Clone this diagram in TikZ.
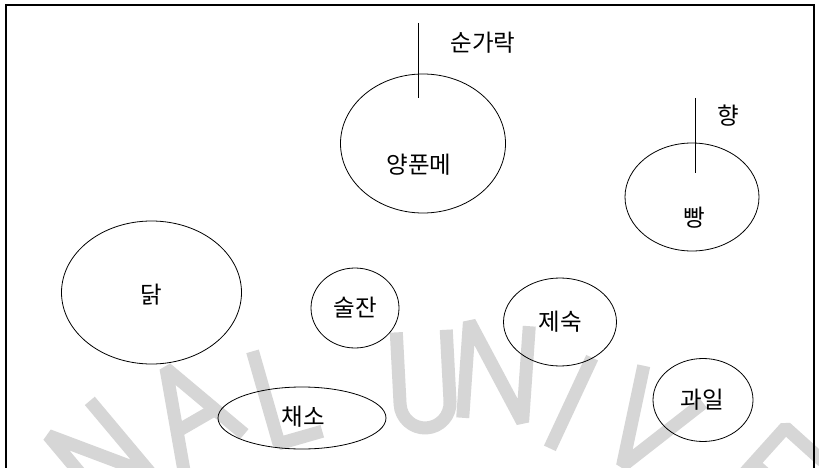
\documentclass[tikz,border=0pt]{standalone}
\usepackage{fontspec}
\newfontfamily\kr{Noto Sans CJK KR}
\usetikzlibrary{shapes.geometric}
\begin{document}
\begin{tikzpicture}[x=1pt,y=1pt,
  oval/.style={ellipse, draw, line width=0.8pt, inner sep=0pt},
  lbl/.style={font=\kr\fontsize{23.5}{23.5}\selectfont, inner sep=0pt},
  wm/.style={draw=black!16, line width=13pt, line join=bevel},
  tickline/.style={line width=0.8pt},
  frameline/.style={line width=1.2pt}]
\useasboundingbox (0,0) rectangle (819,-468);
\fill[white] (0,0) rectangle (819,-468);
% watermark
\begin{scope}
\clip (0,0) rectangle (819,-468);
\begin{scope}[shift={(100,-455)}, rotate=40]
  \draw[wm] (-27,-48)--(-27,48)--(27,-48)--(27,48);
\end{scope}
\begin{scope}[shift={(190,-410)}, rotate=30]
  \draw[wm] (-35,-48)--(0,48)--(35,-48);
  \draw[wm] (-20,-12)--(20,-12);
\end{scope}
\begin{scope}[shift={(285,-392)}, rotate=16]
  \draw[wm] (-20,48)--(-20,-48)--(25,-48);
\end{scope}
\begin{scope}[shift={(424,-383)}, rotate=3]
  \draw[wm] (-25,52)--(-25,-20) arc (180:360:25) -- (25,52);
\end{scope}
\begin{scope}[shift={(496,-372)}, rotate=-4]
  \draw[wm] (-30,-48)--(-30,48)--(30,-48)--(30,48);
\end{scope}
\begin{scope}[shift={(571,-403)}, rotate=-25]
  \draw[wm] (0,-50)--(0,50);
\end{scope}
\begin{scope}[shift={(648,-425)}, rotate=-32]
  \draw[wm] (-35,48)--(0,-48)--(35,48);
\end{scope}
\begin{scope}[shift={(772,-480)}, rotate=-42]
  \draw[wm] (25,48)--(-25,48)--(-25,-48)--(25,-48);
  \draw[wm] (-25,0)--(20,0);
\end{scope}
\end{scope}
% frame
\coordinate (f1) at (6,-472);
\coordinate (f2) at (6,-5);
\coordinate (f3) at (814,-5);
\coordinate (f4) at (814,-472);
\draw[frameline] (f1)--(f2)--(f3)--(f4);
% ellipses
\node[oval, minimum width=165pt, minimum height=139pt] (yp) at (423,-143.5) {};
\node[lbl] (ypt) at (419,-165) {양푼메};
\node[oval, minimum width=134pt, minimum height=108pt] (bb) at (692,-197) {};
\node[lbl] (bbt) at (694,-218) {빵};
\node[oval, minimum width=180pt, minimum height=143pt] (dk) at (151.5,-292.5) {};
\node[lbl] (dkt) at (151,-295) {닭};
\node[oval, minimum width=88pt, minimum height=80pt] (sj) at (355,-308) {};
\node[lbl] (sjt) at (355,-308) {술잔};
\node[oval, minimum width=113pt, minimum height=88pt] (js) at (560,-322) {};
\node[lbl] (jst) at (560,-322) {제숙};
\node[oval, minimum width=100pt, minimum height=83pt] (gi) at (703,-400) {};
\node[lbl] (git) at (702,-400) {과일};
\node[oval, minimum width=168pt, minimum height=62pt] (cs) at (302,-418) {};
\node[lbl] (cst) at (303,-417) {채소};
% sticks
\coordinate (s1) at (418,-23);
\coordinate (s2) at (418,-98);
\draw[tickline] (s1)--(s2);
\node[lbl] (sgr) at (483,-43) {순가락};
\coordinate (h1) at (695.5,-98);
\coordinate (h2) at (695.5,-173);
\draw[tickline] (h1)--(h2);
\node[lbl] (hy) at (728,-116) {향};
\end{tikzpicture}
\end{document}
